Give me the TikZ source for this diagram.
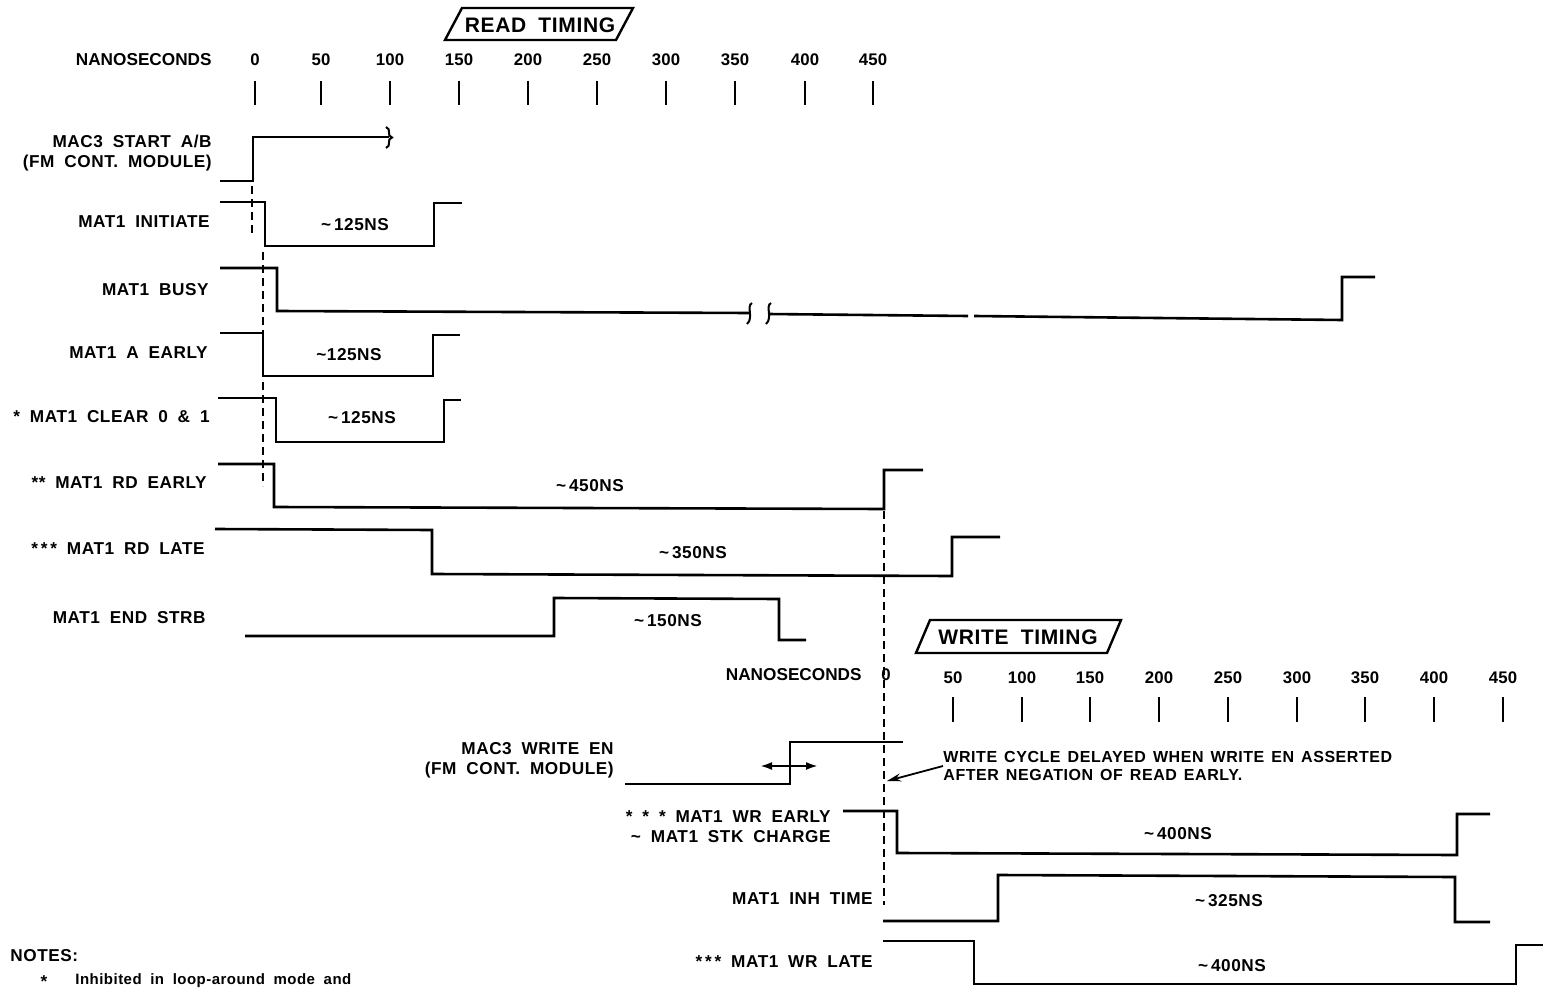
\documentclass[tikz,border=0pt]{standalone}
\usepackage{fontspec}
\setmainfont{Liberation Sans}[LetterSpace=3.2,WordSpace=1.85]
\newfontfamily\plainfont{Liberation Sans}[LetterSpace=0]
\newfontfamily\numfont{Liberation Sans}[LetterSpace=1]
\newfontfamily\annfont{Liberation Sans}[LetterSpace=3.5,WordSpace=1.4]
\usetikzlibrary{arrows.meta}
\tikzset{
  wave/.style={line width=1.3pt, line join=miter},
  brk/.style={line width=1.0pt},
  tickmark/.style={line width=1.3pt},
  guide/.style={line width=1.1pt, dash pattern=on 4pt off 2.5pt},
  lbl/.style={font=\bfseries\fontsize{8.6}{10}\selectfont, anchor=east, inner sep=0pt, align=right},
  nslbl/.style={font=\plainfont\bfseries\fontsize{8.6}{10}\selectfont, anchor=east, inner sep=0pt},
  num/.style={font=\numfont\bfseries\fontsize{8.4}{9}\selectfont, inner sep=0pt},
  dur/.style={font=\bfseries\fontsize{8.6}{9}\selectfont, inner sep=0pt},
  title/.style={font=\bfseries\fontsize{10.5}{12}\selectfont, inner sep=0pt},
  titlebox/.style={line width=1.2pt, line join=miter},
}
\begin{document}
\begin{tikzpicture}[x=0.5pt,y=-0.5pt]
\useasboundingbox (0,0) rectangle (1543,995);

% ---------------- READ TIMING ----------------
\draw[titlebox] (445,40) -- (462,8) -- (633,8) -- (616,40) -- cycle;
\node[title] (readtitle) at (540,25) {READ TIMING};

\node[nslbl] (rns) at (212,60) {NANOSECONDS};
\foreach \v/\x [count=\i] in {0/255,50/321,100/390,150/459,200/528,250/597,300/666,350/735,400/805,450/873}{
  \node[num] (rn\i) at (\x,60) {\v};
  \draw[tickmark] (\x,81) -- (\x,105);
}

% labels
\node[lbl] (l1) at (212,153) {MAC3 START A/B\\(FM CONT. MODULE)};
\node[lbl] (l2) at (210,222) {MAT1 INITIATE};
\node[lbl] (l3) at (209,290) {MAT1 BUSY};
\node[lbl] (l4) at (208,353) {MAT1 A EARLY};
\node[lbl] (l5) at (210,417) {* MAT1 CLEAR 0 \& 1};
\node[lbl] (l6) at (207,483) {** MAT1 RD EARLY};
\node[lbl] (l7) at (205,549) {*\,*\,* MAT1 RD LATE};
\node[lbl] (l8) at (206,618) {MAT1 END STRB};

% waveforms
\draw[wave] (220,181) -- (253,181) -- (253,137) -- (389,137);
\draw[brk] (386,127) .. controls (392,129) and (386,136) .. (392,137.5) .. controls (386,139) and (392,146) .. (386,148);

\draw[wave] (220,202) -- (265,202) -- (265,246) -- (434,246) -- (434,203) -- (462,203);
\draw[wave] (220,268) -- (277,268) -- (277,311) -- (750,313);
\draw[brk] (752,303) .. controls (746,306) and (754,318) .. (747,324);
\draw[brk] (771,303) .. controls (765,306) and (773,318) .. (766,324);
\draw[wave] (768,314) -- (968,316);
\draw[wave] (974,316) -- (1342,320) -- (1342,277) -- (1375,277);
\draw[wave] (220,333) -- (263,333) -- (263,376) -- (433,376) -- (433,335) -- (460,335);
\draw[wave] (218,398) -- (276,398) -- (276,442) -- (444,442) -- (444,400) -- (461,400);
\draw[wave] (218,464) -- (274,464) -- (274,507) -- (884,509) -- (884,470) -- (923,470);
\draw[wave] (215,529) -- (432,530) -- (432,574) -- (952,576) -- (952,537) -- (1000,537);
\draw[wave] (245,636) -- (554,636) -- (554,598) -- (779,599) -- (779,640) -- (806,640);

% durations
\node[dur] (d1) at (355,225) {\textasciitilde\,125NS};
\node[dur] (d2) at (349,355) {\textasciitilde125NS};
\node[dur] (d3) at (362,418) {\textasciitilde\,125NS};
\node[dur] (d4) at (590,486) {\textasciitilde\,450NS};
\node[dur] (d5) at (693,553) {\textasciitilde\,350NS};
\node[dur] (d6) at (668,621) {\textasciitilde\,150NS};

% guide lines
\draw[guide] (252,186) -- (252,234);
\draw[guide] (263,252) -- (263,486);
\draw[guide] (884,511) -- (884,905);

% ---------------- WRITE TIMING ----------------
\draw[titlebox] (916,653) -- (930,620) -- (1121,620) -- (1107,653) -- cycle;
\node[title] (writetitle) at (1018,637) {WRITE TIMING};

\node[nslbl] (wns) at (862,675) {NANOSECONDS};
\node[num] (wn0) at (886,675) {0};
\foreach \v/\x [count=\i] in {50/953,100/1022,150/1090,200/1159,250/1228,300/1297,350/1365,400/1434,450/1503}{
  \node[num] (wn\i) at (\x,678) {\v};
  \draw[tickmark] (\x,697) -- (\x,722);
}

\node[lbl] (w1) at (614,760) {MAC3 WRITE EN\\(FM CONT. MODULE)};
\node[lbl] (w2) at (831,827) {* * * MAT1 WR EARLY\\\textasciitilde\ MAT1 STK CHARGE};
\node[lbl] (w3) at (873,899) {MAT1 INH TIME};
\node[lbl] (w4) at (873,962) {*\,*\,* MAT1 WR LATE};

\draw[wave] (625,784) -- (790,784) -- (790,742) -- (903,742);
\draw[line width=1.1pt, {Latex[length=6pt,width=4pt]}-{Latex[length=6pt,width=4pt]}] (760,766) -- (818,766);

\draw[wave] (843,811) -- (897,811) -- (897,853) -- (1457,855) -- (1457,814) -- (1490,814);
\draw[wave] (883,921) -- (998,921) -- (998,875) -- (1455,877) -- (1455,922) -- (1490,922);
\draw[wave] (883,941) -- (974,941) -- (974,984) -- (1516,984) -- (1516,945) -- (1543,945);

\node[dur] (d7) at (1178,834) {\textasciitilde\,400NS};
\node[dur] (d8) at (1229,901) {\textasciitilde\,325NS};
\node[dur] (d9) at (1232,966) {\textasciitilde\,400NS};

\node[lbl, anchor=west, align=left, font=\annfont\bfseries\fontsize{8.0}{8.6}\selectfont] (note) at (943,766)
  {WRITE CYCLE DELAYED WHEN WRITE EN ASSERTED\\AFTER NEGATION OF READ EARLY.};
\coordinate (wtip) at (887,781);
\draw[line width=0.9pt, -{Stealth[length=7pt,width=4pt]}] (note.west) -- (wtip);

% ---------------- NOTES ----------------
\node[lbl, anchor=west] (notes) at (10,956) {NOTES:};
\node[lbl, anchor=center] (star) at (44,982) {*};
\node[lbl, anchor=west, font=\bfseries\fontsize{7.5}{9}\selectfont] (note1) at (75,981) {Inhibited in loop-around mode and};
\end{tikzpicture}
\end{document}
